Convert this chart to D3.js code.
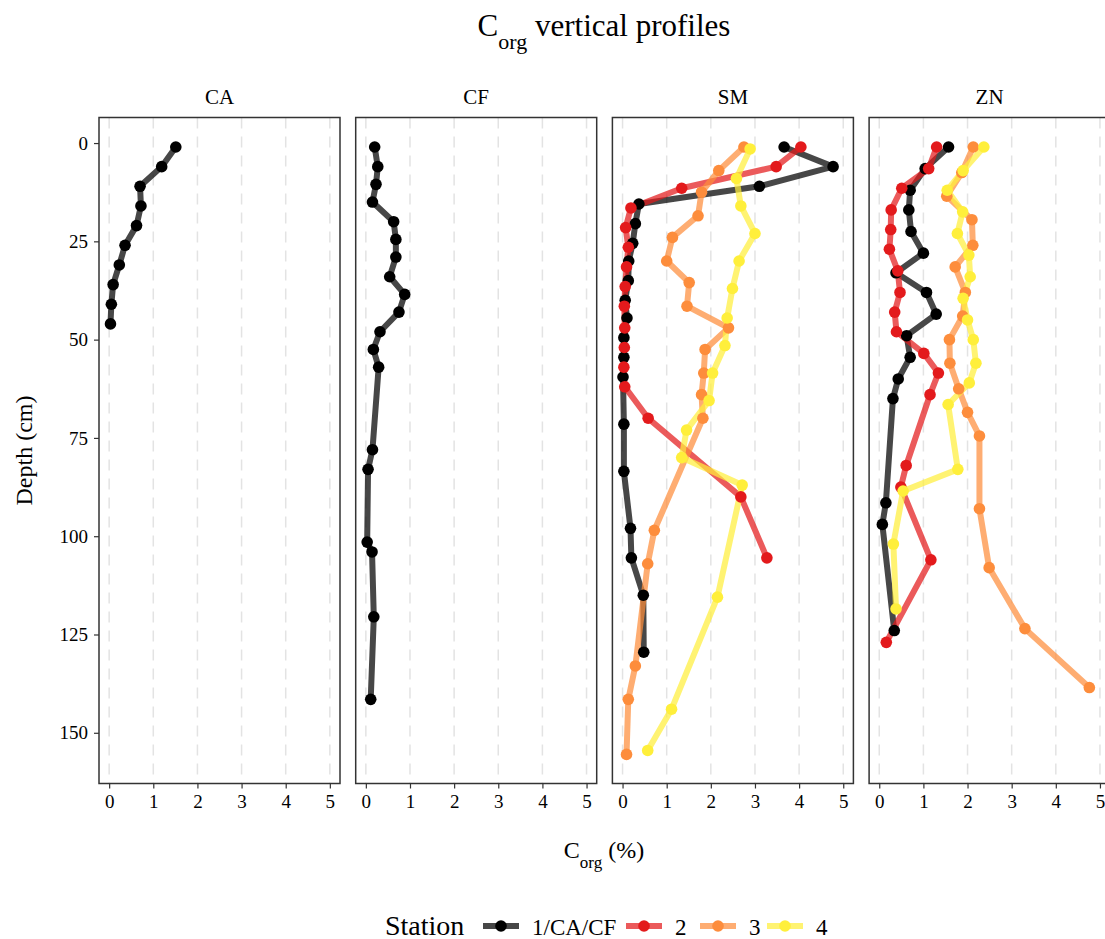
<!DOCTYPE html>
<html lang="en">

<head>
    <meta charset="UTF-8">
    <title>Corg vertical profiles</title>
    <script src="https://d3js.org/d3.v7.min.js"></script>
    <style>
        body {
            margin: 0;
            padding: 0;
            background-color: #fff;
        }

        svg text {
            font-family: "Liberation Serif", "Times New Roman", serif;
            fill: #000;
        }

        .tick text {
            font-size: 19px;
        }

        .tick line {
            stroke: #333;
            stroke-width: 1.2;
        }
    </style>
</head>

<body>
    <svg id="chart" width="1105" height="939"></svg>
    <script>
        // Sites (facets) and stations
        const sites = ["CA", "CF", "SM", "ZN"];
        const stations = ["1/CA/CF", "2", "3", "4"];
        const stationColors = ["#000000", "#E31A1C", "#FD8D3C", "#FFEF3B"];
        const xTicks = [0, 1, 2, 3, 4, 5];
        const yTicks = [0, 25, 50, 75, 100, 125, 150];

        // Depth (cm) and Corg (%)
        const caDepth1 = [1, 6, 11, 16, 21, 26, 31, 36, 41, 46];
        const caCorg1 = [1.51, 1.19, 0.70, 0.72, 0.62, 0.36, 0.23, 0.09, 0.05, 0.03];

        const cfDepth1 = [1, 6, 10.5, 15, 20, 24.5, 29, 34, 38.5, 43, 48, 52.5, 57, 78, 83, 101.5, 104, 120.5, 141.5];
        const cfCorg1 = [0.20, 0.27, 0.23, 0.15, 0.63, 0.68, 0.68, 0.54, 0.88, 0.75, 0.32, 0.17, 0.29, 0.15, 0.05, 0.03, 0.14, 0.18, 0.11];

        const smDepth1 = [1, 6, 11, 15.5, 20.5, 25.5, 30, 35, 40, 44.5, 49.5, 54.5, 59.5, 71.5, 83.5, 98, 105.5, 115, 129.5];
        const smCorg1 = [3.66, 4.77, 3.10, 0.37, 0.29, 0.23, 0.14, 0.13, 0.06, 0.10, 0.03, 0.03, 0.01, 0.03, 0.03, 0.18, 0.20, 0.47, 0.48];
        const smDepth2 = [1, 6, 11.5, 16.5, 21.5, 26.5, 31.5, 36.5, 41.5, 47, 52, 57, 62, 70, 90, 105.5];
        const smCorg2 = [4.04, 3.48, 1.34, 0.19, 0.07, 0.13, 0.09, 0.06, 0.04, 0.05, 0.04, 0.03, 0.05, 0.58, 2.68, 3.27];
        const smDepth3 = [1, 7, 12.5, 18.5, 24, 30, 35.5, 41.5, 47, 52.5, 58.5, 64, 70, 98.5, 107, 133, 141.5, 155.5];
        const smCorg3 = [2.75, 2.18, 1.79, 1.71, 1.13, 1.00, 1.51, 1.46, 2.40, 1.87, 1.84, 1.79, 1.82, 0.72, 0.57, 0.29, 0.13, 0.09];
        const smDepth4 = [1.5, 9, 16, 23, 30, 37, 44.5, 51.5, 58.5, 65.5, 73, 80, 87, 115.5, 144, 154.5];
        const smCorg4 = [2.89, 2.58, 2.68, 3.00, 2.64, 2.49, 2.37, 2.32, 2.04, 1.96, 1.45, 1.34, 2.71, 2.15, 1.11, 0.57];

        const znDepth1 = [1, 6.5, 12, 17, 22.5, 28, 33, 38, 43.5, 49, 54.5, 60, 65, 91.5, 97, 124];
        const znCorg1 = [1.57, 1.04, 0.70, 0.67, 0.72, 1.00, 0.38, 1.07, 1.29, 0.62, 0.70, 0.43, 0.31, 0.15, 0.07, 0.34];
        const znDepth2 = [1, 6.5, 11.5, 17, 22, 27, 32.5, 38, 43, 48, 53.5, 58.5, 64, 82, 87.5, 106, 127];
        const znCorg2 = [1.30, 1.12, 0.51, 0.27, 0.26, 0.23, 0.42, 0.47, 0.35, 0.39, 1.01, 1.34, 1.15, 0.61, 0.49, 1.17, 0.16];
        const znDepth3 = [1, 7.5, 13.5, 19.5, 26, 31.5, 38, 44, 50, 56, 62.5, 68.5, 74.5, 93, 108, 123.5, 138.5];
        const znCorg3 = [2.13, 1.87, 1.53, 2.10, 2.12, 1.72, 1.95, 1.89, 1.59, 1.60, 1.80, 2.00, 2.27, 2.27, 2.49, 3.30, 4.76];
        const znDepth4 = [1, 7, 12, 17.5, 23, 28.5, 34, 39.5, 45, 50, 56, 61, 66.5, 83, 88.5, 102, 118.5];
        const znCorg4 = [2.37, 1.90, 1.54, 1.89, 1.77, 2.03, 2.06, 1.90, 2.00, 2.13, 2.19, 2.04, 1.56, 1.78, 0.54, 0.32, 0.38];

        // pair depth & corg arrays into series per site
        function makeSeries(station, depth, corg) {
            return { station: station, points: depth.map((d, i) => ({ depth: d, corg: corg[i] })) };
        }
        const seriesBySite = {
            CA: [makeSeries(0, caDepth1, caCorg1)],
            CF: [makeSeries(0, cfDepth1, cfCorg1)],
            SM: [makeSeries(0, smDepth1, smCorg1), makeSeries(1, smDepth2, smCorg2),
                 makeSeries(2, smDepth3, smCorg3), makeSeries(3, smDepth4, smCorg4)],
            ZN: [makeSeries(0, znDepth1, znCorg1), makeSeries(1, znDepth2, znCorg2),
                 makeSeries(2, znDepth3, znCorg3), makeSeries(3, znDepth4, znCorg4)]
        };

        // layout
        const panelTop = 117.5;
        const panelBottom = 783.5;
        const panelWidth = 241;
        const panelLeft0 = 99;
        const panelStep = 256.7;

        const svg = d3.select("#chart");

        const x = d3.scaleLinear().domain([-0.23, 5.23]).range([0, panelWidth]);
        const y = d3.scaleLinear().domain([-6.5, 162.9]).range([panelTop, panelBottom]);

        const line = d3.line()
            .x(d => x(d.corg))
            .y(d => y(d.depth));

        sites.forEach((site, i) => {
            const g = svg.append("g")
                .attr("transform", `translate(${panelLeft0 + i * panelStep},0)`);

            // dashed vertical grid
            g.selectAll(".grid")
                .data(xTicks)
                .enter().append("line")
                .attr("x1", d => x(d)).attr("x2", d => x(d))
                .attr("y1", panelTop).attr("y2", panelBottom)
                .attr("stroke", "#e3e3e3")
                .attr("stroke-width", 1.5)
                .attr("stroke-dasharray", "11,8");

            const series = seriesBySite[site];

            // lines first, then points
            series.forEach(s => {
                g.append("path")
                    .datum(s.points)
                    .attr("d", line)
                    .attr("fill", "none")
                    .attr("stroke", stationColors[s.station])
                    .attr("stroke-opacity", 0.72)
                    .attr("stroke-width", 6)
                    .attr("stroke-linejoin", "round");
            });
            series.forEach(s => {
                g.selectAll(null)
                    .data(s.points)
                    .enter().append("circle")
                    .attr("cx", d => x(d.corg))
                    .attr("cy", d => y(d.depth))
                    .attr("r", 5.8)
                    .attr("fill", stationColors[s.station]);
            });

            // panel border
            g.append("rect")
                .attr("x", 0).attr("y", panelTop)
                .attr("width", panelWidth).attr("height", panelBottom - panelTop)
                .attr("fill", "none")
                .attr("stroke", "#333")
                .attr("stroke-width", 1.5);

            // strip label
            g.append("text")
                .attr("x", panelWidth / 2)
                .attr("y", 104)
                .attr("text-anchor", "middle")
                .style("font-size", "21px")
                .text(site);

            // x axis
            const xAxis = g.append("g")
                .attr("transform", `translate(0,${panelBottom})`)
                .call(d3.axisBottom(x).tickValues(xTicks).tickFormat(d3.format("d")).tickSize(5).tickPadding(6));
            xAxis.select(".domain").remove();

            // y axis only on first panel
            if (i === 0) {
                const yAxis = g.append("g")
                    .call(d3.axisLeft(y).tickValues(yTicks).tickFormat(d3.format("d")).tickSize(5).tickPadding(6));
                yAxis.select(".domain").remove();
            }
        });

        // title
        const title = svg.append("text")
            .attr("x", 604)
            .attr("y", 36)
            .attr("text-anchor", "middle")
            .style("font-size", "31px");
        title.append("tspan").text("C");
        title.append("tspan").attr("baseline-shift", "sub").style("font-size", "22px").text("org");
        title.append("tspan").text(" vertical profiles");

        // x axis title
        const xTitle = svg.append("text")
            .attr("x", 604)
            .attr("y", 858)
            .attr("text-anchor", "middle")
            .style("font-size", "24px");
        xTitle.append("tspan").text("C");
        xTitle.append("tspan").attr("baseline-shift", "sub").style("font-size", "17px").text("org");
        xTitle.append("tspan").text(" (%)");

        // y axis title
        svg.append("text")
            .attr("transform", `translate(32,${(panelTop + panelBottom) / 2}) rotate(-90)`)
            .attr("text-anchor", "middle")
            .style("font-size", "24px")
            .text("Depth (cm)");

        // legend
        const legend = svg.append("g").attr("transform", "translate(385,935)");
        legend.append("text")
            .attr("x", 0).attr("y", 0)
            .style("font-size", "28px")
            .text("Station");

        const keyX = [98, 241, 315, 382];
        stations.forEach((st, i) => {
            const k = legend.append("g").attr("transform", `translate(${keyX[i]},-9)`);
            k.append("line")
                .attr("x1", 0).attr("x2", 36)
                .attr("stroke", stationColors[i])
                .attr("stroke-opacity", 0.72)
                .attr("stroke-width", 6);
            k.append("circle")
                .attr("cx", 18).attr("cy", 0).attr("r", 5.8)
                .attr("fill", stationColors[i]);
            k.append("text")
                .attr("x", 49).attr("y", 9)
                .style("font-size", "23px")
                .text(st);
        });
    </script>
</body>

</html>
